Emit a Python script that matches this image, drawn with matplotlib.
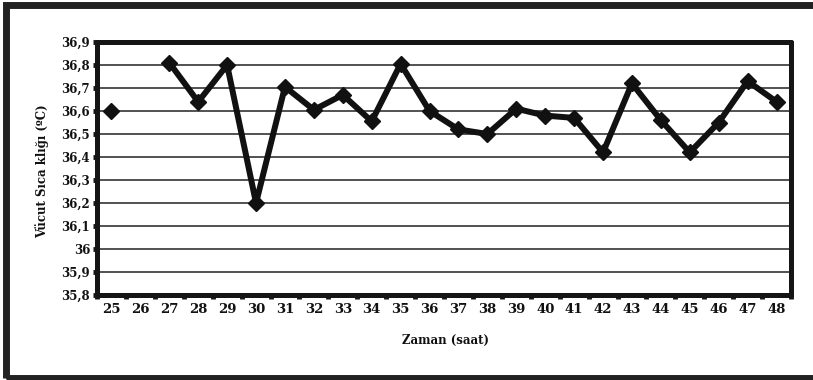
import numpy as np
import matplotlib
matplotlib.use("Agg")
import matplotlib.pyplot as plt
from matplotlib.patches import Rectangle

hours = [str(h) for h in range(25, 49)]
temps = [36.60, np.nan, 36.81, 36.64, 36.80, 36.20, 36.705, 36.605, 36.67, 36.555,
         36.805, 36.60, 36.52, 36.50, 36.61, 36.58, 36.57, 36.42, 36.72, 36.56,
         36.42, 36.55, 36.73, 36.64]
yticks = [35.8, 35.9, 36.0, 36.1, 36.2, 36.3, 36.4, 36.5, 36.6, 36.7, 36.8, 36.9]
ytick_labels = ["35,8", "35,9", "36", "36,1", "36,2", "36,3", "36,4", "36,5",
                "36,6", "36,7", "36,8", "36,9"]
xlabel = "Zaman (saat)"
ylabel = "Vücut Sıca klığı (ºC)"

W, H = 813, 380
fig = plt.figure(figsize=(W / 100, H / 100), dpi=100)
fig.patch.set_facecolor("white")

# outer frame
fig.patches.append(Rectangle((6 / W, 1 - 378 / H), 820 / W, 373 / H,
                             transform=fig.transFigure, fill=False,
                             edgecolor="#222222", lw=5, zorder=0))

ax = fig.add_axes([97 / W, 1 - 295 / H, (791 - 97) / W, (295 - 42) / H])
x = np.arange(len(hours))
ax.plot(x, temps, color="#111111", lw=4.3, marker="D", markersize=8.5,
        solid_joinstyle="bevel", zorder=3, clip_on=False)

ax.set_xlim(-0.5, len(hours) - 0.5)
ax.set_ylim(35.8, 36.9)
ax.set_yticks(yticks)
ax.set_yticklabels(ytick_labels)
ax.set_xticks(x)
ax.set_xticklabels(hours)
ax.set_xticks(np.arange(-0.5, len(hours)), minor=True)

for t in yticks[1:-1]:
    ax.axhline(t, color="#222222", lw=1.1, zorder=1)

for s in ax.spines.values():
    s.set_linewidth(3.6)
    s.set_color("#151515")
    s.set_capstyle("round")

ax.tick_params(axis="y", length=3, width=3.5, color="#151515", pad=2,
               labelsize=8.5)
ax.tick_params(axis="x", which="major", length=0, pad=6, labelsize=9.5)
ax.tick_params(axis="x", which="minor", length=3, width=3.5, color="#151515")

for lab in ax.get_yticklabels() + ax.get_xticklabels():
    lab.set_fontfamily("DejaVu Serif")
    lab.set_fontweight("bold")
    lab.set_color("#111111")

fig.text(445 / W, 1 - 340 / H, xlabel, ha="center", va="center",
         family="DejaVu Serif", fontweight="bold", fontsize=8.5, color="#111111")
fig.text(42 / W, 1 - 171 / H, ylabel, ha="center", va="center", rotation=90,
         family="DejaVu Serif", fontweight="bold", fontsize=8.5, color="#111111")

fig.savefig("out.png", dpi=100, facecolor="white")
